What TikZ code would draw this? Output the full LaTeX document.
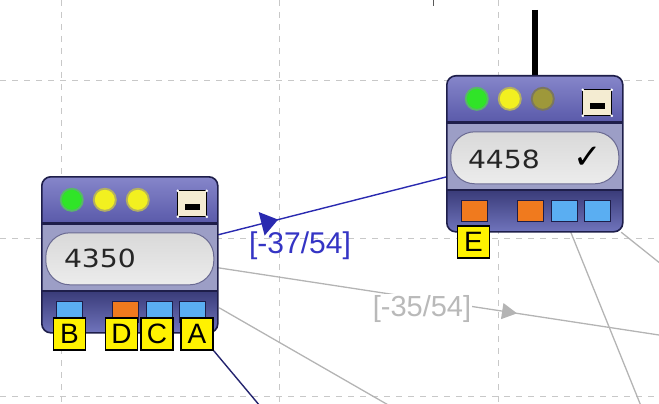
\documentclass[tikz,border=0pt]{standalone}
\usepackage{fontspec}
\setmainfont{DejaVu Sans}
\newfontfamily\lblfont{Liberation Sans}
\usetikzlibrary{decorations.markings,arrows.meta,calc}
\definecolor{navy}{HTML}{1E1E4A}
\definecolor{barTop}{HTML}{8686CA}
\definecolor{barBot}{HTML}{5A5AAA}
\definecolor{midband}{HTML}{9C9EC6}
\definecolor{botTop}{HTML}{3C3E7C}
\definecolor{botBot}{HTML}{7074BC}
\definecolor{portblue}{HTML}{5AAEF2}
\definecolor{portorange}{HTML}{F07A1E}
\definecolor{cream}{HTML}{F4ECD2}
\definecolor{gridgray}{HTML}{C8C8C8}
\definecolor{congray}{HTML}{B4B4B4}
\definecolor{conblue}{HTML}{2A2AB0}
\definecolor{lblblue}{HTML}{3434C4}
\definecolor{connavy}{HTML}{24246E}
\definecolor{ledGreen}{HTML}{30E428}
\definecolor{ledGreenOut}{HTML}{58B868}
\definecolor{ledYellow}{HTML}{F2F020}
\definecolor{ledYellowOut}{HTML}{B4B060}
\definecolor{ledDim}{HTML}{9E983A}
\definecolor{ledDimOut}{HTML}{7A7660}
\definecolor{fieldEdge}{HTML}{6A6A92}
\newcommand\devparts[3]{%
  % #1 = third LED inner, #2 = third LED outer, #3 = port colours list
  \begin{scope}
    \clip[rounded corners=9pt] (0,0) rectangle (176,156);
    \shade[top color=barTop,bottom color=barBot] (0,0) rectangle (176,46);
    \fill[navy] (0,45) rectangle (176,48);
    \fill[midband] (0,48) rectangle (176,113);
    \fill[navy] (0,113) rectangle (176,116);
    \shade[top color=botTop,bottom color=botBot] (0,116) rectangle (176,156);
  \end{scope}
  \draw[navy,line width=1.6pt,rounded corners=9pt] (0,0) rectangle (176,156);
  \fill[ledGreenOut] (30,23) circle (12);
  \fill[ledGreen] (30,23) circle (10);
  \fill[ledYellowOut] (63,23) circle (12);
  \fill[ledYellow] (63,23) circle (10);
  \fill[#2] (96,23) circle (12);
  \fill[#1] (96,23) circle (10);
  \draw[black,fill=cream,line width=1.2pt] (136,14) rectangle (165,40);
  \fill[black] (143,27) rectangle (158,33);
  \foreach \cx/\cy in {136/14,165/14,136/40,165/40} \fill[white] (\cx,\cy) circle (1.4);
  \shade[rounded corners=24pt,top color=gray!30,middle color=white,bottom color=gray!15,draw=fieldEdge,line width=1pt] (4,56) rectangle (172,108);
  \foreach \px/\pc in {#3} \draw[navy,line width=1pt,fill=\pc] (\px,125) rectangle +(26,21);
}
\tikzset{
  gridline/.style={gridgray,line width=1pt,dash pattern=on 6pt off 6pt},
  devframe/.style={minimum width=176pt,minimum height=156pt,inner sep=0pt},
  lbl/.style={draw=black,line width=1.5pt,fill=yellow,minimum width=32pt,minimum height=32pt,inner sep=0pt,font=\lblfont\fontsize{28}{28}\selectfont},
  valtext/.style={anchor=west,inner sep=0pt,text=black!85,font=\fontsize{25}{25}\selectfont},
  graycon/.style={congray,line width=1.3pt},
}
\begin{document}
\begin{tikzpicture}[x=1pt,y=-1pt]
\useasboundingbox (0,0) rectangle (659,404);
\clip (0,0) rectangle (659,404);
% grid
\foreach \gx in {61,279,498} \draw[gridline] (\gx,0) -- (\gx,404);
\foreach \gy in {81,238,396} \draw[gridline] (0,\gy) -- (659,\gy);
\draw[gray!70!black,line width=1pt] (433,0) -- (433,6);
% device nodes
\node[devframe] (n1) at (130,255) {};
\node[devframe] (n2) at (535,154) {};
% coordinates for free ends
\coordinate (top) at (535,10);
\coordinate (g1end) at (659,335);
\coordinate (g2end) at (390,406);
\coordinate (b3end) at (260,406);
\coordinate (g4end) at (641,406);
\coordinate (g5end) at (661,264);
% connectors behind
\draw[graycon,postaction={decorate},decoration={markings,mark=at position 0.678 with {\arrow{Triangle[length=15pt,width=16pt]}}}]
  ($(n1.north east)+(0,91)$) -- (g1end);
\draw[graycon] ($(n1.north east)+(1,131)$) -- (g2end);
\draw[graycon] ($(n2.south west)+(124,0)$) -- (g4end);
\draw[graycon] ($(n2.south east)+(-2,0)$) -- (g5end);
\draw[black,line width=6pt] (top) -- (n2.north);
\draw[conblue,line width=1.4pt,postaction={decorate},decoration={markings,mark=at position 0.262 with {\arrow{Triangle[length=17pt,width=24pt]}}}]
  ($(n1.north east)+(0,58)$) -- ($(n2.north west)+(0,101)$);
% device drawings
\begin{scope}[shift={(n1.north west)}]
  \devparts{ledYellow}{ledYellowOut}{15/portblue,71/portorange,105/portblue,138/portblue}
\end{scope}
\begin{scope}[shift={(n2.north west)}]
  \devparts{ledDim}{ledDimOut}{15/portorange,71/portorange,105/portblue,138/portblue}
\end{scope}
\node[valtext] (v1) at ($(n1.north west)+(22,82)$) {\scalebox{1.13}[1]{4350}};
\node[valtext] (v2) at ($(n2.north west)+(21,84)$) {\scalebox{1.13}[1]{4458}};
\node[inner sep=0pt,font=\fontsize{34}{34}\selectfont] (ck) at ($(n2.north west)+(141,82)$) {✓};
% connector labels
\node[text=lblblue,inner sep=0pt,font=\lblfont\fontsize{30}{30}\selectfont] (l1) at (300,246) {[-37/54]};
\node[text=gray!55,fill=white,inner sep=1pt,font=\lblfont\fontsize{29}{29}\selectfont] (l2) at (422,309) {[-35/54]};
% port labels
\node[lbl] (lB) at (69.5,334) {B};
\node[lbl] (lD) at (121.5,334) {D};
\node[lbl] (lC) at (157,334) {C};
\node[lbl] (lA) at (197,334) {A};
\node[lbl] (lE) at (473.5,242) {E};
\draw[connavy,line width=1.4pt] (lA.south east) -- (b3end);
\end{tikzpicture}
\end{document}
